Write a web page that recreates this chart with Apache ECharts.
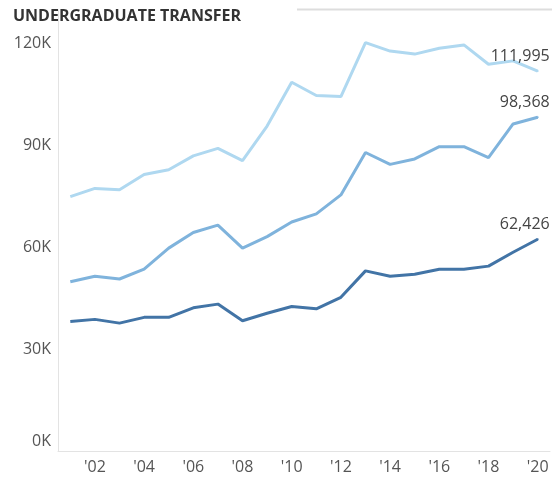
<!DOCTYPE html>
<html>
<head>
<meta charset="utf-8">
<script src="https://cdn.jsdelivr.net/npm/echarts@6/dist/echarts.min.js"></script>
<style>
  html, body { margin: 0; padding: 0; background: #fff; }
  #chart { width: 552px; height: 480px; }
</style>
</head>
<body>
<div id="chart"></div>
<script>
// years 2001..2020
const years = ['2001','2002','2003','2004','2005','2006','2007','2008','2009','2010',
               '2011','2012','2013','2014','2015','2016','2017','2018','2019','2020'];

// top line (lightest)
const seriesLight = [75000, 77400, 77000, 81500, 82900, 87000, 89200, 85600, 95800, 108700,
                     104800, 104500, 120400, 117900, 117000, 118700, 119700, 114000, 115000, 111995];
// middle line
const seriesMid = [49900, 51500, 50700, 53600, 59800, 64400, 66600, 59800, 63200, 67500,
                   69900, 75500, 88000, 84500, 86100, 89700, 89700, 86500, 96400, 98368];
// bottom line (darkest)
const seriesDark = [38200, 38800, 37700, 39400, 39400, 42200, 43300, 38400, 40600, 42600,
                    41900, 45300, 53100, 51500, 52100, 53600, 53600, 54500, 58600, 62426];

const yTicks = [0, 30000, 60000, 90000, 120000];

const chart = echarts.init(document.getElementById('chart'));

const fontFamily = '"Open Sans", "Noto Sans", sans-serif';

// only the last point carries a label
function withEndLabel(values) {
  return values.map((v, i) => {
    if (i !== values.length - 1) return v;
    return {
      value: v,
      label: {
        show: true,
        position: 'top',
        align: 'right',
        offset: [12, -1],
        formatter: (p) => p.value.toLocaleString('en-US'),
        color: '#444',
        fontSize: 16,
        fontFamily: fontFamily
      }
    };
  });
}

function lineSeries(name, values, color) {
  const last = values.length - 1;
  return {
    name: name,
    type: 'line',
    data: withEndLabel(values),
    showSymbol: true,
    symbol: (val, p) => (p.dataIndex === last ? 'circle' : 'none'),
    symbolSize: 2,
    smooth: false,
    lineStyle: { color: color, width: 3 },
    itemStyle: { color: color },
    label: { show: false },
    emphasis: { disabled: true }
  };
}

chart.setOption({
  animation: false,
  title: {
    text: 'UNDERGRADUATE TRANSFER',
    left: 8,
    top: 3,
    textStyle: {
      fontFamily: fontFamily,
      fontWeight: 'bold',
      fontSize: 16,
      color: '#333'
    }
  },
  graphic: [{
    type: 'line',
    shape: { x1: 297, y1: 9.5, x2: 552, y2: 9.5 },
    style: { stroke: '#dddddd', lineWidth: 2 }
  }],
  grid: { left: 58, right: 2, top: 10, bottom: 29 },
  xAxis: {
    type: 'category',
    data: years,
    boundaryGap: true,
    axisLine: { show: true, lineStyle: { color: '#e3e3e3', width: 1 } },
    axisTick: { show: false },
    axisLabel: {
      interval: (index) => index % 2 === 1,
      formatter: (v) => "'" + v.slice(2),
      color: '#555',
      fontSize: 16,
      fontFamily: fontFamily,
      margin: 8
    },
    splitLine: { show: false }
  },
  yAxis: {
    type: 'value',
    min: 0,
    max: 130000,
    interval: 30000,
    axisLine: { show: true, lineStyle: { color: '#e3e3e3', width: 1 } },
    axisTick: { show: false },
    splitLine: { show: false },
    axisLabel: {
      color: '#555',
      fontSize: 16,
      fontFamily: fontFamily,
      margin: 7,
      formatter: (v) => {
        if (yTicks.indexOf(v) < 0) return '';
        if (v === 0) return '{z|0K}';
        return (v / 1000) + 'K';
      },
      rich: {
        z: { color: '#555', fontSize: 16, fontFamily: fontFamily, padding: [0, 0, 20, 0] }
      }
    }
  },
  series: [
    lineSeries('Light', seriesLight, '#afd8f0'),
    lineSeries('Mid', seriesMid, '#7fb3dc'),
    lineSeries('Dark', seriesDark, '#4274a6')
  ]
});
</script>
</body>
</html>
